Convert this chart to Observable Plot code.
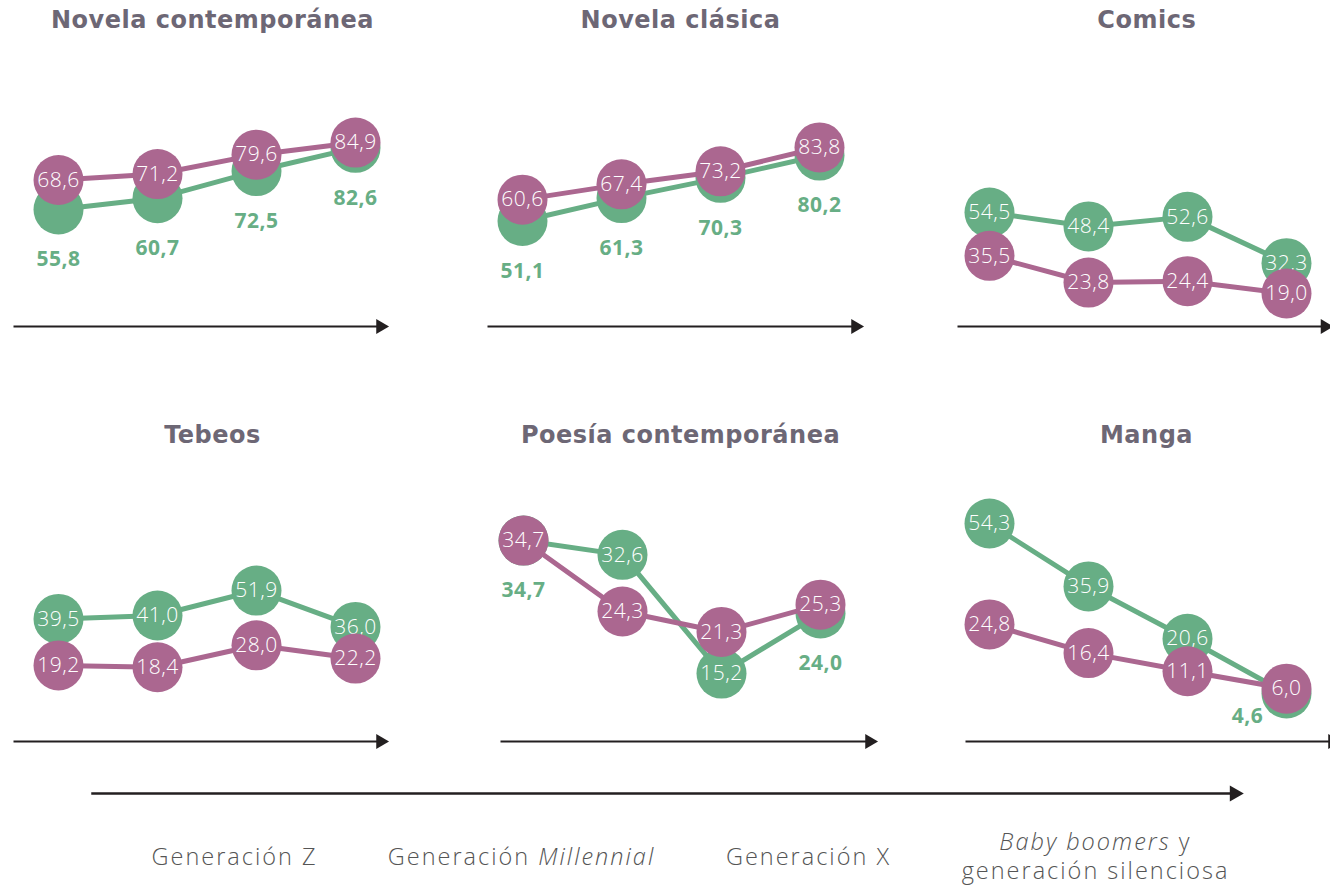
<!DOCTYPE html>
<html>
<head>
<meta charset="utf-8">
<script src="https://cdn.jsdelivr.net/npm/d3@7"></script>
<script src="https://cdn.jsdelivr.net/npm/@observablehq/plot@0.6"></script>
<style>
html, body { margin: 0; padding: 0; background: #fff; }
#wrap { position: relative; width: 1330px; height: 885px; overflow: hidden; background: #fff; }
#wrap svg { position: absolute; background: transparent !important; max-width: none !important; }
</style>
</head>
<body>
<div id="wrap"></div>
<script>
// ---- Datos ----
const generaciones = [
  "Generación Z",
  "Generación Millennial",
  "Generación X",
  "Baby boomers y\ngeneración silenciosa"
];
const generos = [
  "Novela contemporánea",
  "Novela clásica",
  "Comics",
  "Tebeos",
  "Poesía contemporánea",
  "Manga"
];
const serieVerde = [
  [55.8, 60.7, 72.5, 82.6],
  [51.1, 61.3, 70.3, 80.2],
  [54.5, 48.4, 52.6, 32.3],
  [39.5, 41.0, 51.9, 36.0],
  [34.7, 32.6, 15.2, 24.0],
  [54.3, 35.9, 20.6, 4.6]
];
const serieMorada = [
  [68.6, 71.2, 79.6, 84.9],
  [60.6, 67.4, 73.2, 83.8],
  [35.5, 23.8, 24.4, 19.0],
  [19.2, 18.4, 28.0, 22.2],
  [34.7, 24.3, 21.3, 25.3],
  [24.8, 16.4, 11.1, 6.0]
];
const palabrasCursiva = ["Millennial", "Baby boomers"];

// ---- Estilo / disposición ----
const VERDE = "#67ae85";
const MORADO = "#ab6790";
const TINTA = "#231f20";
const TITULO = "#6d6775";
const FUENTE = "'Open Sans', 'Noto Sans', sans-serif";
const FUENTE_TITULO = "'DejaVu Sans', 'Open Sans', sans-serif";

const paneles = [
  {left: 0,   top: 0,   width: 460, ml: 14, mr: 80,   xr: [57, 355], yd: [50, 90], yr: [222.3, 130.3], tdx: 15,  fuera: [0, 1, 2, 3], fdx: 0,   fdy: 50},
  {left: 470, top: 0,   width: 460, ml: 18, mr: 75,   xr: [51, 350], yd: [50, 90], yr: [223, 133],     tdx: 8.5, fuera: [0, 1, 2, 3], fdx: 0,   fdy: 50},
  {left: 940, top: 0,   width: 400, ml: 18, mr: 15.5, xr: [48, 347], yd: [10, 60], yr: [313.5, 199.5], tdx: 5,   fuera: [],           fdx: 0,   fdy: 50},
  {left: 0,   top: 415, width: 460, ml: 14, mr: 80,   xr: [57, 355], yd: [10, 60], yr: [271, 156.5],   tdx: 15,  fuera: [],           fdx: 0,   fdy: 50},
  {left: 470, top: 415, width: 460, ml: 31, mr: 61,   xr: [52, 350], yd: [10, 40], yr: [293.5, 88.9],  tdx: -5,  fuera: [0, 3],       fdx: 0,   fdy: 50},
  {left: 940, top: 415, width: 400, ml: 26, mr: 8,    xr: [48, 347], yd: [0, 60],  yr: [293.7, 88.5],  tdx: -3,  fuera: [3],          fdx: -39, fdy: 23}
];

const fmt = v => v.toFixed(1).replace(".", ",");
const wrap = document.getElementById("wrap");
const SVGNS = "http://www.w3.org/2000/svg";

function place(svg, left, top) {
  svg.style.left = left + "px";
  svg.style.top = top + "px";
  svg.style.background = "transparent";
  wrap.appendChild(svg);
}

paneles.forEach((L, i) => {
  const verde = generaciones.map((g, j) => ({g, j, v: serieVerde[i][j]}));
  const morada = generaciones.map((g, j) => ({g, j, v: serieMorada[i][j]}));
  const dentro = verde.filter(d => !L.fuera.includes(d.j));
  const fuera = verde.filter(d => L.fuera.includes(d.j));
  const svg = Plot.plot({
    width: L.width,
    height: 345,
    marginLeft: L.ml,
    marginRight: L.mr,
    marginTop: 20,
    marginBottom: 19,
    x: {type: "point", domain: generaciones, range: L.xr, padding: 0, axis: null},
    y: {domain: L.yd, range: L.yr, axis: null},
    style: {fontFamily: FUENTE, background: "transparent", overflow: "visible", letterSpacing: "0.5px"},
    marks: [
      Plot.frame({anchor: "bottom", stroke: TINTA, strokeWidth: 2}),
      Plot.dot([0], {frameAnchor: "bottom-right", symbol: "triangle", rotate: 90, r: 5.5, fill: TINTA}),
      Plot.line(verde, {x: "g", y: "v", stroke: VERDE, strokeWidth: 5}),
      Plot.dot(verde, {x: "g", y: "v", r: 25, fill: VERDE}),
      Plot.text(dentro, {x: "g", y: "v", text: d => fmt(d.v), fill: "white", fontSize: 21, fontWeight: 300}),
      Plot.line(morada, {x: "g", y: "v", stroke: MORADO, strokeWidth: 5}),
      Plot.dot(morada, {x: "g", y: "v", r: 25, fill: MORADO}),
      Plot.text(morada, {x: "g", y: "v", text: d => fmt(d.v), fill: "white", fontSize: 21, fontWeight: 300}),
      Plot.text(fuera, {x: "g", y: "v", text: d => fmt(d.v), fill: VERDE, fontSize: 21, fontWeight: 700, dx: L.fdx, dy: L.fdy}),
      Plot.text([generos[i]], {text: d => d, frameAnchor: "top", lineAnchor: "middle", dx: L.tdx, fill: TITULO, fontSize: 24, fontWeight: 700, fontFamily: FUENTE_TITULO})
    ]
  });
  place(svg, L.left, L.top);
});

// ---- Eje inferior con generaciones (una línea de texto por renglón) ----
const renglones = generaciones.flatMap(g => {
  const ls = g.split("\n");
  return ls.map((t, n) => ({g, t, o: n - (ls.length - 1) / 2}));
});
const ejes = Plot.plot({
  width: 1330,
  height: 125,
  marginLeft: 92,
  marginRight: 96,
  marginTop: 33,
  marginBottom: 10,
  x: {type: "point", domain: generaciones, range: [234, 1095], padding: 0, axis: null},
  y: {domain: [-0.5, 0.5], range: [82, 111], axis: null},
  style: {fontFamily: FUENTE, background: "transparent", letterSpacing: "2px"},
  marks: [
    Plot.frame({anchor: "top", stroke: TINTA, strokeWidth: 2.5}),
    Plot.dot([0], {frameAnchor: "top-right", symbol: "triangle", rotate: 90, r: 6, fill: TINTA}),
    Plot.text(renglones, {x: "g", y: "o", text: "t", lineAnchor: "middle", fill: "#555", fontSize: 23.5, fontWeight: 300})
  ]
});

// Cursiva para palabras concretas
ejes.querySelectorAll("text").forEach(t => {
  const s = t.textContent;
  for (const w of palabrasCursiva) {
    const k = s.indexOf(w);
    if (k >= 0) {
      t.textContent = "";
      if (k > 0) t.appendChild(document.createTextNode(s.slice(0, k)));
      const ts = document.createElementNS(SVGNS, "tspan");
      ts.setAttribute("font-style", "italic");
      ts.textContent = w;
      t.appendChild(ts);
      const rest = s.slice(k + w.length);
      if (rest) t.appendChild(document.createTextNode(rest));
      break;
    }
  }
});
place(ejes, 0, 760);
</script>
</body>
</html>
